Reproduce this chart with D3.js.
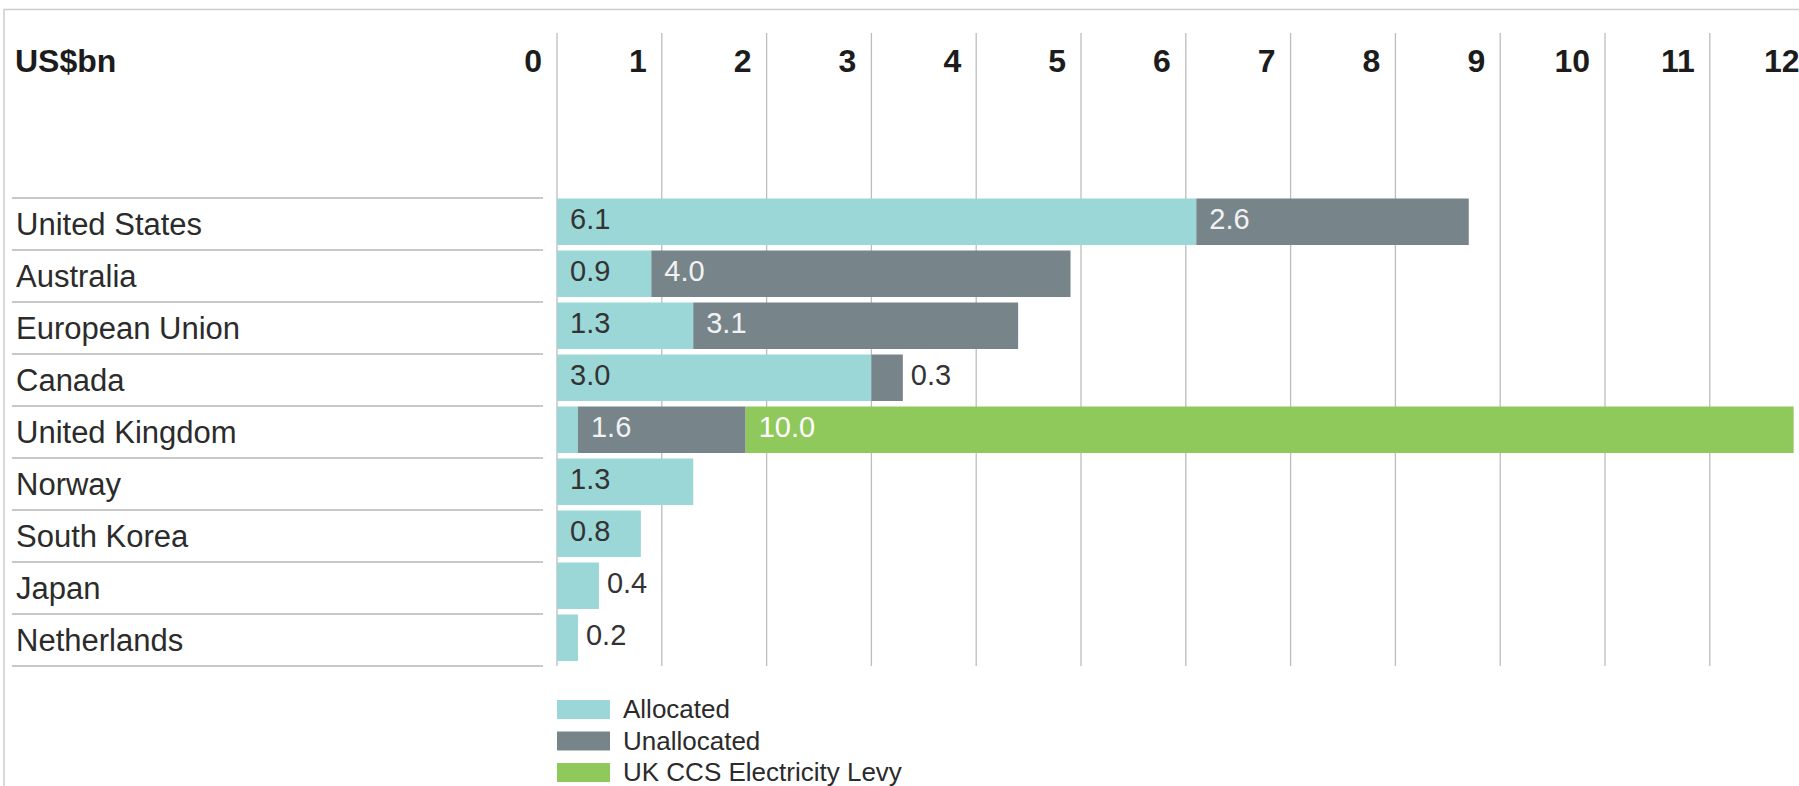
<!DOCTYPE html>
<html>
<head>
<meta charset="utf-8">
<script src="https://cdn.jsdelivr.net/npm/d3@7"></script>
<style>
  html, body { margin: 0; padding: 0; background: #fff; }
  svg { display: block; font-family: "Liberation Sans", Arial, sans-serif; }
</style>
</head>
<body>
<svg id="chart"></svg>
<script>
// values (US$bn)
var countries = ["United States", "Australia", "European Union", "Canada", "United Kingdom",
  "Norway", "South Korea", "Japan", "Netherlands"];
var allocated   = [6.1, 0.9, 1.3, 3.0, 0.2, 1.3, 0.8, 0.4, 0.2];
var unallocated = [2.6, 4.0, 3.1, 0.3, 1.6, 0, 0, 0, 0];
var levy        = [0, 0, 0, 0, 10.0, 0, 0, 0, 0];
var seriesNames = ["Allocated", "Unallocated", "UK CCS Electricity Levy"];
var seriesKeys = ["allocated", "unallocated", "levy"];
var tickValues = [0, 1, 2, 3, 4, 5, 6, 7, 8, 9, 10, 11, 12];

var width = 1799, height = 786;
var colors = {allocated: "#9ad7d6", unallocated: "#77858b", levy: "#8fc95c"};
var labelColors = {allocated: "#333333", unallocated: "#f2f2f2", levy: "#ffffff"};

var svg = d3.select("#chart")
  .attr("width", width)
  .attr("height", height);

var rows = countries.map(function(c, i) {
  return {country: c, allocated: allocated[i], unallocated: unallocated[i], levy: levy[i]};
});

var x = d3.scaleLinear().domain([0, 12]).range([557, 1814.6]);
var y = d3.scaleBand().domain(countries).range([198, 666]).paddingInner(0).paddingOuter(0);
var barH = y.bandwidth() - 5.5;

// frame
svg.append("line").attr("x1", 4).attr("x2", width).attr("y1", 9.5).attr("y2", 9.5)
  .attr("stroke", "#cccccc").attr("stroke-width", 1.5);
svg.append("line").attr("x1", 4).attr("x2", 4).attr("y1", 9).attr("y2", height)
  .attr("stroke", "#cccccc").attr("stroke-width", 1.5);

// vertical grid
svg.append("g")
  .selectAll("line")
  .data(tickValues)
  .join("line")
    .attr("x1", d => x(d)).attr("x2", d => x(d))
    .attr("y1", 33).attr("y2", 666)
    .attr("stroke", "#bdbdbd")
    .attr("stroke-width", 1.3);

// tick labels, right-aligned just left of each grid line
svg.append("g")
  .selectAll("text")
  .data(tickValues)
  .join("text")
    .attr("x", d => x(d) - 15)
    .attr("y", 72)
    .attr("text-anchor", "end")
    .attr("font-size", 32)
    .attr("font-weight", "bold")
    .attr("fill", "#1c1c1c")
    .text(d => d);

svg.append("text")
  .attr("x", 15).attr("y", 72)
  .attr("font-size", 32).attr("font-weight", "bold").attr("fill", "#1c1c1c")
  .text("US$bn");

// row separators in the label column
svg.append("g")
  .selectAll("line")
  .data(countries.map(c => y(c)).concat([y.range()[1]]))
  .join("line")
    .attr("x1", 12).attr("x2", 543)
    .attr("y1", d => d).attr("y2", d => d)
    .attr("stroke", "#c9c9c9")
    .attr("stroke-width", 2);

// country labels
svg.append("g")
  .selectAll("text")
  .data(countries)
  .join("text")
    .attr("x", 16)
    .attr("y", d => y(d) + 37)
    .attr("font-size", 31)
    .attr("fill", "#2b2b2b")
    .text(d => d);

// stacked bars
var stack = d3.stack().keys(seriesKeys);
var stacked = stack(rows);

var layers = svg.append("g")
  .selectAll("g")
  .data(stacked)
  .join("g")
    .attr("fill", d => colors[d.key]);

layers.selectAll("rect")
  .data(d => d.map(s => ({key: d.key, s: s})))
  .join("rect")
    .attr("x", d => x(d.s[0]))
    .attr("y", d => y(d.s.data.country) + 0.5)
    .attr("width", d => x(d.s[1]) - x(d.s[0]))
    .attr("height", barH);

// value labels
var labels = [];
stacked.forEach(function(layer, li) {
  layer.forEach(function(s) {
    var v = s[1] - s[0];
    if (v <= 0) return;
    var last = seriesKeys.slice(li + 1).every(k => s.data[k] === 0);
    if (v >= 0.75) {
      labels.push({x: x(s[0]) + 13, y: y(s.data.country), v: v, color: labelColors[layer.key]});
    } else if (last) {
      labels.push({x: x(s[1]) + 8, y: y(s.data.country), v: v, color: "#333333"});
    }
  });
});

svg.append("g")
  .selectAll("text")
  .data(labels)
  .join("text")
    .attr("x", d => d.x)
    .attr("y", d => d.y + 31)
    .attr("font-size", 29)
    .attr("fill", d => d.color)
    .text(d => d3.format(".1f")(d.v));

// legend
var legend = svg.append("g")
  .selectAll("g")
  .data(seriesKeys)
  .join("g")
    .attr("transform", (d, i) => "translate(557," + (700 + i * 31.5) + ")");

legend.append("rect")
  .attr("width", 53).attr("height", 19)
  .attr("fill", d => colors[d]);

legend.append("text")
  .attr("x", 66).attr("y", 18)
  .attr("font-size", 26)
  .attr("fill", "#2b2b2b")
  .text((d, i) => seriesNames[i]);
</script>
</body>
</html>
